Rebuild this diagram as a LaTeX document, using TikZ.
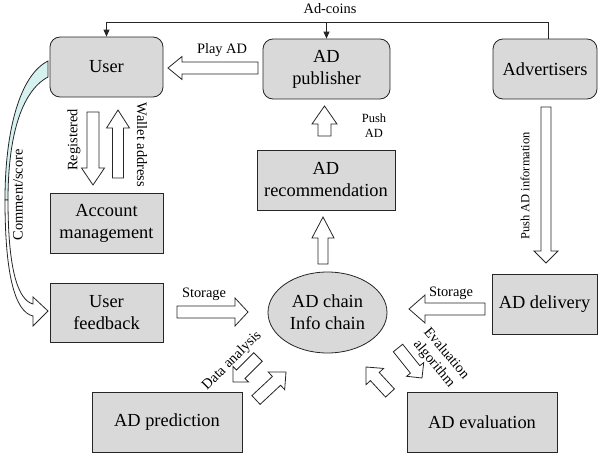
\documentclass[tikz,border=0pt]{standalone}
\usepackage{fontspec}
\setmainfont{Liberation Serif}
\usetikzlibrary{calc,shapes.geometric,arrows.meta}

\definecolor{boxgray}{RGB}{217,217,217}
\definecolor{ribbon}{RGB}{214,242,240}

\newcommand{\boxfont}{\fontsize{18.4}{22}\selectfont}
\newcommand{\lblfont}{\fontsize{14.4}{16}\selectfont}
\newcommand{\tinyfont}{\fontsize{12.5}{15}\selectfont}

\tikzset{
  boxbase/.style={draw=black!85, fill=boxgray, line width=0.8pt, inner sep=0pt,
    align=center, font=\boxfont},
  roundbox/.style={boxbase, rounded corners=10pt},
  ellbox/.style={boxbase, ellipse},
  blk/.style={draw=black!85, fill=white, line width=0.8pt, line join=miter},
  lbl/.style={font=\lblfont, inner sep=0pt},
  smalllbl/.style={font=\tinyfont, inner sep=0pt, align=center},
  link/.style={draw=black!85, line width=0.8pt},
  tip/.style={-{Triangle[length=7pt,width=6pt]}},
}

% block arrow: tail, tip, shaft half width, head half width, head length
\newcommand{\barr}[5]{%
  \coordinate (ba-t) at #1;
  \coordinate (ba-p) at #2;
  \coordinate (ba-b) at ($(ba-p)!#5!(ba-t)$);
  \draw[blk] ($(ba-t)!#3!90:(ba-p)$) -- ($(ba-b)!#3!-90:(ba-t)$)
    -- ($(ba-b)!#4!-90:(ba-t)$) -- (ba-p) -- ($(ba-b)!#4!90:(ba-t)$)
    -- ($(ba-b)!#3!90:(ba-t)$) -- ($(ba-t)!#3!-90:(ba-p)$) -- cycle;}

\begin{document}
\begin{tikzpicture}[x=1pt,y=-1pt]
\useasboundingbox (0,0) rectangle (598,455);

% main blocks
\node[roundbox, minimum width=113pt, minimum height=60pt] (user) at (106.5,67) {User};
\node[roundbox, minimum width=127pt, minimum height=60pt] (pub) at (326.5,69) {AD\\publisher};
\node[roundbox, minimum width=104pt, minimum height=60pt] (adv) at (545,69) {Advertisers};
\node[boxbase, minimum width=138pt, minimum height=60pt] (rec) at (326,180) {AD\\recommendation};
\node[boxbase, minimum width=113pt, minimum height=60pt] (acc) at (106.5,223) {Account\\management};
\node[boxbase, minimum width=113pt, minimum height=59pt] (fb) at (106.5,312.5) {User\\feedback};
\node[ellbox, minimum width=119pt, minimum height=81pt] (chain) at (327.5,312.5) {AD chain\\Info chain};
\node[boxbase, minimum width=105pt, minimum height=60pt] (del) at (544.5,304) {AD delivery};
\node[boxbase, minimum width=150pt, minimum height=60pt] (pred) at (167,422) {AD prediction};
\node[boxbase, minimum width=150pt, minimum height=60pt] (eval) at (482,422) {AD evaluation};

% Ad-coins bus from the advertisers
\coordinate (bus) at (0,22);
\draw[link, tip] ([xshift=3pt]adv.north) -- ([xshift=3pt]adv.north |- bus)
  -- (user.north |- bus) -- (user.north);
\draw[link, tip] (pub.north |- bus) -- (pub.north);
\node[lbl] (coins) at (330,9) {Ad-coins};

% block arrows
\barr{(258,68)}{(168,68)}{6pt}{11.5pt}{14pt}
\node[lbl] (play) at (222,50) {Play AD};

\barr{(93,112)}{(93,185)}{6pt}{11.5pt}{17pt}
\node[lbl, rotate=90] (reg) at (74,140) {Registered};
\barr{(118,178)}{(118,110)}{5.5pt}{11.5pt}{18pt}
\node[lbl, rotate=-90] (wal) at (142,145) {Wallet address};

\barr{(324.5,136)}{(324.5,106)}{6.5pt}{12.5pt}{18pt}
\node[smalllbl] (push) at (374,125.5) {Push\\AD};

\barr{(323,264)}{(323,217)}{5pt}{11pt}{21pt}

\barr{(546,107)}{(546,263)}{5pt}{12pt}{12pt}
\node[smalllbl, rotate=90] (pinfo) at (525,186) {Push AD information};

\barr{(177,312)}{(248,312)}{6pt}{14pt}{13pt}
\node[lbl] (st1) at (204,294) {Storage};
\barr{(485,309)}{(409,309)}{6pt}{14pt}{16pt}
\node[lbl] (st2) at (451,293) {Storage};

\barr{(258,357)}{(233,382)}{6pt}{11pt}{11pt}
\barr{(256,400)}{(286,372)}{6pt}{12pt}{13pt}
\node[lbl, rotate=45] (da) at (232,361) {Data analysis};

\barr{(398,348)}{(422,378)}{6pt}{11pt}{11pt}
\barr{(390,393)}{(366,367)}{6pt}{12pt}{13pt}
\node[smalllbl, font=\lblfont, rotate=-50] (ea) at (440,359) {Evaluation\\algorithm};

% curved comment/score arrow
\draw[blk, fill=ribbon] (48,61) .. controls (20,75) and (5,130) .. (5,200)
  -- (8,200) .. controls (8,140) and (20,92) .. (48,77) -- cycle;
\draw[blk] (5,200) .. controls (5,275) and (15,312) .. (33,316)
  -- (33,326) -- (48,311) -- (33,297) -- (33,304)
  .. controls (18,300) and (8,270) .. (8,200) -- cycle;
\node[lbl, rotate=90] (cs) at (18,195) {Comment/score};
\end{tikzpicture}
\end{document}
